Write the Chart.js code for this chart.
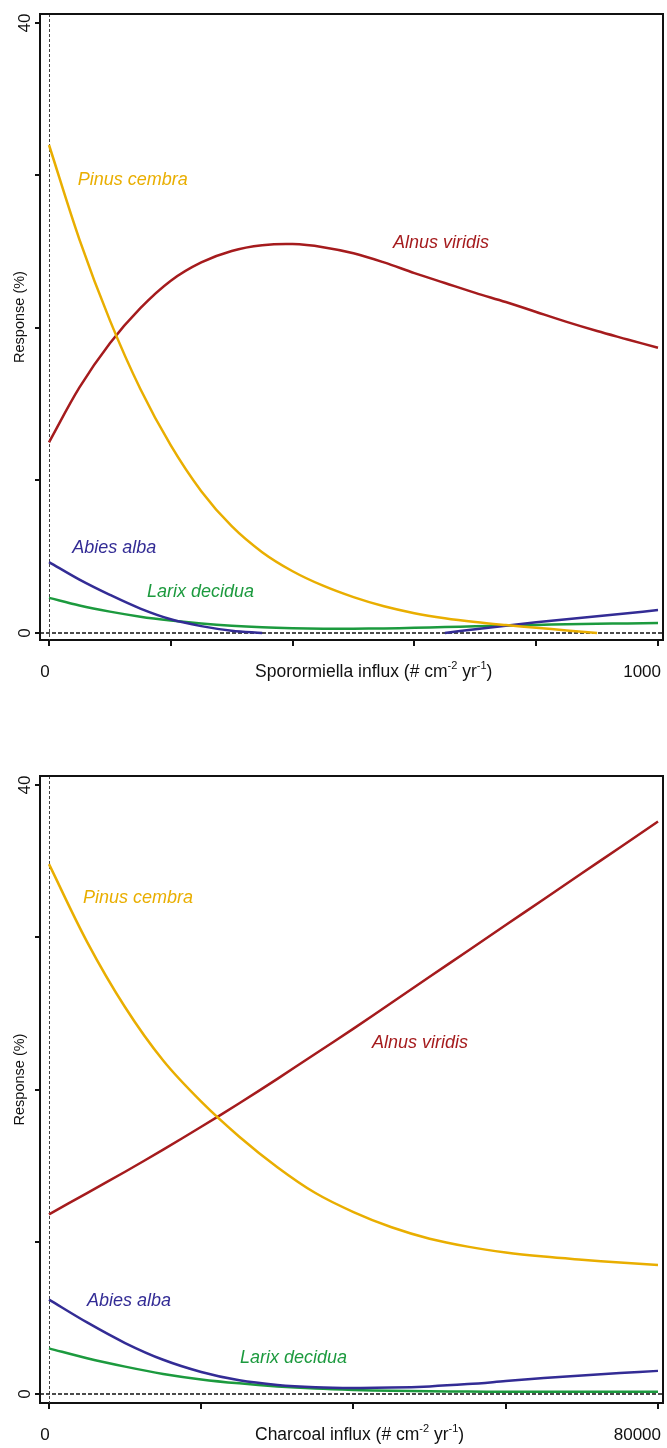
<!DOCTYPE html>
<html>
<head>
<meta charset="utf-8">
<script src="https://cdn.jsdelivr.net/npm/chart.js@4.4.1/dist/chart.umd.min.js"></script>
<style>
html, body { margin: 0; padding: 0; background: #fff; }
#wrap { position: relative; width: 667px; height: 1448px; }
canvas { position: absolute; left: 0; }
#spor-chart { top: 0; }
#char-chart { top: 700px; }
</style>
</head>
<body>
<div id="wrap">
  <canvas id="spor-chart" width="667" height="700"></canvas>
  <canvas id="char-chart" width="667" height="748"></canvas>
</div>
<script>
// ---------------- Data: Sporormiella panel ----------------
const sporX      = [0, 50, 100, 150, 200, 250, 300, 350, 400, 450, 500, 550, 600, 650, 700, 750, 800, 850, 900, 950, 1000];
const sporPinus  = [32.0, 25.8, 20.5, 16.0, 12.3, 9.3, 7.0, 5.3, 4.05, 3.1, 2.35, 1.75, 1.3, 0.97, 0.72, 0.52, 0.34, 0.17, 0, null, null];
const sporAlnus  = [12.5, 16.1, 19.0, 21.3, 23.1, 24.3, 25.05, 25.42, 25.5, 25.3, 24.9, 24.3, 23.6, 22.95, 22.3, 21.7, 21.05, 20.4, 19.8, 19.25, 18.7];
const sporAbies  = [4.65, 3.5, 2.5, 1.6, 0.9, 0.45, 0.15, 0, null, null, null, null, null, 0, 0.25, 0.47, 0.7, 0.9, 1.1, 1.3, 1.5];
const sporLarix  = [2.3, 1.8, 1.4, 1.07, 0.82, 0.62, 0.47, 0.37, 0.31, 0.28, 0.28, 0.3, 0.34, 0.39, 0.44, 0.49, 0.53, 0.57, 0.6, 0.63, 0.66];
const sporXTicks = [0, 200, 400, 600, 800, 1000];
const sporXLabels = [0, 1000];

// ---------------- Data: Charcoal panel ----------------
const charX      = [0, 5000, 10000, 15000, 20000, 25000, 30000, 35000, 40000, 45000, 50000, 55000, 60000, 65000, 70000, 75000, 80000];
const charPinus  = [34.8, 29.7, 25.4, 21.9, 19.2, 16.9, 14.9, 13.2, 11.95, 10.95, 10.2, 9.68, 9.3, 9.03, 8.82, 8.63, 8.47];
const charAlnus  = [11.8, 13.2, 14.6, 16.05, 17.55, 19.1, 20.7, 22.35, 24.0, 25.7, 27.4, 29.1, 30.8, 32.5, 34.2, 35.9, 37.6];
const charAbies  = [6.2, 4.7, 3.35, 2.25, 1.45, 0.9, 0.6, 0.45, 0.4, 0.42, 0.5, 0.65, 0.85, 1.05, 1.22, 1.38, 1.52];
const charLarix  = [3.0, 2.35, 1.8, 1.32, 0.96, 0.7, 0.5, 0.36, 0.27, 0.21, 0.18, 0.16, 0.15, 0.15, 0.15, 0.15, 0.15];
const charXTicks = [0, 20000, 40000, 60000, 80000];
const charXLabels = [0, 80000];

const yTicks = [0, 10, 20, 30, 40];
const yLabels = [0, 40];
const species = ['Pinus cembra', 'Alnus viridis', 'Abies alba', 'Larix decidua'];

// ---------------- Styles ----------------
const colors = ['#E9AE00', '#A51B1D', '#332C95', '#1C9A3E'];
const FONT = '"Liberation Sans", Arial, sans-serif';

function makeSeries(xs, ys){ return xs.map((x, i) => ({x, y: ys[i]})); }

// draws frame, zero lines, axis text and the species names
function makeTextPlugin(cfg){
    return {
        id: 'panelText',
        beforeDatasetsDraw(chart){
            const {ctx, chartArea: a, scales: {x, y}} = chart;
            ctx.save();
            // vertical dashed at x = 0
            ctx.strokeStyle = '#444'; ctx.lineWidth = 1; ctx.setLineDash([3, 2]);
            const px0 = Math.round(x.getPixelForValue(0)) + 0.5;
            ctx.beginPath(); ctx.moveTo(px0, a.top); ctx.lineTo(px0, a.bottom); ctx.stroke();
            // horizontal dashed at y = 0
            ctx.strokeStyle = '#111'; ctx.lineWidth = 1.5; ctx.setLineDash([4, 2]);
            const py0 = y.getPixelForValue(0);
            ctx.beginPath(); ctx.moveTo(a.left, py0); ctx.lineTo(a.right, py0); ctx.stroke();
            ctx.restore();
        },
        afterDatasetsDraw(chart){
            const {ctx, chartArea: a, scales: {x, y}} = chart;
            ctx.save();
            ctx.strokeStyle = '#111'; ctx.lineWidth = 2;
            ctx.beginPath();
            ctx.moveTo(a.left, a.top); ctx.lineTo(a.right, a.top); ctx.lineTo(a.right, a.bottom);
            ctx.stroke();

            ctx.fillStyle = '#111';
            // y tick labels (rotated)
            ctx.font = '17px ' + FONT;
            yLabels.forEach(v => {
                ctx.save();
                ctx.translate(25, y.getPixelForValue(v));
                ctx.rotate(-Math.PI / 2);
                ctx.textAlign = 'center'; ctx.textBaseline = 'middle';
                ctx.fillText(String(v), 0, 0);
                ctx.restore();
            });
            // y title
            ctx.save();
            ctx.font = '14.5px ' + FONT;
            ctx.translate(20, (a.top + a.bottom) / 2 - 10);
            ctx.rotate(-Math.PI / 2);
            ctx.textAlign = 'center'; ctx.textBaseline = 'middle';
            ctx.fillText('Response (%)', 0, 0);
            ctx.restore();

            // x tick labels
            const ly = a.bottom + 32;
            ctx.font = '17px ' + FONT;
            ctx.textBaseline = 'middle';
            ctx.textAlign = 'center';
            ctx.fillText(String(cfg.xLabels[0]), x.getPixelForValue(cfg.xLabels[0]) - 4, ly);
            ctx.textAlign = 'right';
            ctx.fillText(String(cfg.xLabels[1]), x.getPixelForValue(cfg.xLabels[1]) + 3, ly);

            // x title with superscripts
            ctx.textAlign = 'left';
            let tx = 255;
            cfg.xTitle.forEach(p => {
                if(p.sup){
                    ctx.font = '11px ' + FONT;
                    ctx.fillText(p.t, tx, ly - 6);
                } else {
                    ctx.font = '17.5px ' + FONT;
                    ctx.fillText(p.t, tx, ly);
                }
                tx += ctx.measureText(p.t).width;
            });

            // species names
            ctx.font = 'italic 18px ' + FONT;
            ctx.textAlign = 'left'; ctx.textBaseline = 'middle';
            species.forEach((s, i) => {
                const [vx, vy] = cfg.labelPos[i];
                ctx.fillStyle = colors[i];
                ctx.fillText(s, x.getPixelForValue(vx), y.getPixelForValue(vy));
            });
            ctx.restore();
        }
    };
}

function makePanel(canvasId, cfg){
    const datasets = cfg.series.map((ys, i) => ({
        label: species[i],
        data: makeSeries(cfg.xs, ys),
        borderColor: colors[i],
        borderWidth: 2.5,
        pointRadius: 0,
        fill: false,
        tension: 0.35
    }));
    return new Chart(document.getElementById(canvasId), {
        type: 'line',
        data: {datasets},
        plugins: [makeTextPlugin(cfg)],
        options: {
            responsive: false,
            animation: false,
            layout: {padding: cfg.padding},
            plugins: {legend: {display: false}, tooltip: {enabled: false}},
            scales: {
                x: {
                    type: 'linear', min: cfg.xMin, max: cfg.xMax, bounds: 'data',
                    afterBuildTicks: s => { s.ticks = cfg.xTicks.map(v => ({value: v})); },
                    ticks: {display: false},
                    grid: {drawOnChartArea: false, tickLength: 6, color: '#111', lineWidth: 2},
                    border: {color: '#111', width: 2}
                },
                y: {
                    type: 'linear', min: cfg.yMin, max: cfg.yMax, bounds: 'data',
                    afterBuildTicks: s => { s.ticks = yTicks.map(v => ({value: v})); },
                    ticks: {display: false},
                    grid: {drawOnChartArea: false, tickLength: 5, color: '#111', lineWidth: 2},
                    border: {color: '#111', width: 2}
                }
            }
        }
    });
}

// ---------------- Panels ----------------
makePanel('spor-chart', {
    xs: sporX,
    series: [sporPinus, sporAlnus, sporAbies, sporLarix],
    xMin: -14.8, xMax: 1008.2, yMin: -0.46, yMax: 40.59,
    xTicks: sporXTicks, xLabels: sporXLabels,
    padding: {left: 35, top: 14, right: 4, bottom: 54},
    xTitle: [{t: 'Sporormiella influx (# cm'}, {t: '-2', sup: true}, {t: ' yr'}, {t: '-1', sup: true}, {t: ')'}],
    labelPos: [[47, 29.7], [565, 25.6], [38, 5.6], [161, 2.7]]
});

makePanel('char-chart', {
    xs: charX,
    series: [charPinus, charAlnus, charAbies, charLarix],
    xMin: -1182, xMax: 80657, yMin: -0.59, yMax: 40.59,
    xTicks: charXTicks, xLabels: charXLabels,
    padding: {left: 35, top: 76, right: 4, bottom: 39},
    xTitle: [{t: 'Charcoal influx (# cm'}, {t: '-2', sup: true}, {t: ' yr'}, {t: '-1', sup: true}, {t: ')'}],
    labelPos: [[4470, 32.6], [42430, 23.05], [4990, 6.1], [25090, 2.36]]
});
</script>
</body>
</html>
